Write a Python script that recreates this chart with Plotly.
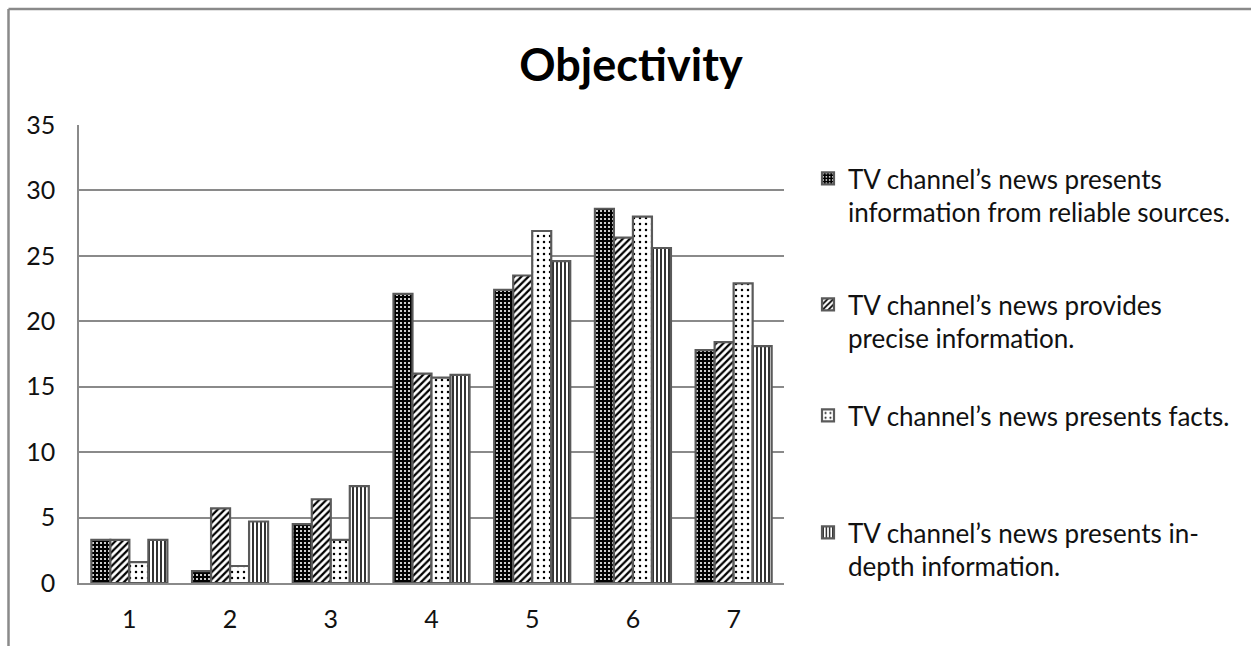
import plotly.graph_objects as go

# Response scale points (1-7) and share of respondents (%) per statement
categories = ["1", "2", "3", "4", "5", "6", "7"]
reliable_sources = [3.3, 0.9, 4.5, 22.1, 22.4, 28.6, 17.8]
precise_info = [3.3, 5.7, 6.4, 16.0, 23.5, 26.4, 18.4]
presents_facts = [1.6, 1.3, 3.3, 15.7, 26.9, 28.0, 22.9]
in_depth_info = [3.3, 4.7, 7.4, 15.9, 24.6, 25.6, 18.1]

series_names = [
    "TV channel’s news presents<br>information from reliable sources.",
    "TV channel’s news provides<br>precise information.",
    "TV channel’s news presents facts.",
    "TV channel’s news presents in-<br>depth information.",
]
y_ticks = [0, 5, 10, 15, 20, 25, 30, 35]

W, H = 1251, 646
L, R, T, B = 79, 467, 125, 63
plot_w = W - L - R
plot_h = H - T - B

FONT = "Lato"
OUTLINE = "#5a5a5a"

patterns = [
    dict(shape=".", bgcolor="black", fgcolor="white", size=4, solidity=0.22, fillmode="replace"),
    dict(shape="/", bgcolor="white", fgcolor="black", size=5, solidity=0.45, fillmode="replace"),
    dict(shape=".", bgcolor="white", fgcolor="black", size=6, solidity=0.14, fillmode="replace"),
    dict(shape="|", bgcolor="white", fgcolor="black", size=4, solidity=0.4, fillmode="replace"),
]
values = [reliable_sources, precise_info, presents_facts, in_depth_info]
legend_ids = ["legend", "legend2", "legend3", "legend4"]
# vertical position (px from top) of each legend entry's top edge
legend_tops = [155, 281, 392, 509]

fig = go.Figure()
for name, vals, pat, lid in zip(series_names, values, patterns, legend_ids):
    fig.add_trace(go.Bar(
        x=categories, y=vals, name=name, legend=lid,
        marker=dict(color="white", pattern=pat,
                    line=dict(color=OUTLINE, width=2.2)),
    ))

legend_common = dict(
    xref="container", yref="container", xanchor="left", yanchor="top",
    x=808 / W, bgcolor="rgba(0,0,0,0)", borderwidth=0, valign="top",
    font=dict(family=FONT, size=26, color="#111"),
)
layout_legends = {}
for lid, top in zip(legend_ids, legend_tops):
    layout_legends[lid] = dict(legend_common, y=1 - top / H)

# outer chart frame (top and left edges)
def px_x(px):
    return (px - L) / plot_w

def px_y(py):
    return (H - B - py) / plot_h

frame = [
    dict(type="line", xref="paper", yref="paper",
         x0=px_x(8.5), x1=px_x(W), y0=px_y(9), y1=px_y(9),
         line=dict(color="#8a8a8a", width=2.5)),
    dict(type="line", xref="paper", yref="paper",
         x0=px_x(8.5), x1=px_x(8.5), y0=px_y(9), y1=px_y(H),
         line=dict(color="#8a8a8a", width=2.5)),
]

fig.update_layout(
    width=W, height=H,
    margin=dict(l=L, r=R, t=T, b=B),
    paper_bgcolor="white", plot_bgcolor="white",
    barmode="group", bargap=0.245, bargroupgap=0,
    title=dict(text="<b>Objectivity</b>", xref="container", yref="container",
               x=631 / W, xanchor="center", y=1 - 65 / H, yanchor="middle",
               font=dict(family=FONT, size=45, color="black")),
    showlegend=True,
    shapes=frame,
    font=dict(family=FONT, color="#111"),
    **layout_legends,
)
fig.update_xaxes(
    type="category", showgrid=False, showline=True, linecolor="#8a8a8a", linewidth=1.5,
    ticks="", tickfont=dict(family=FONT, size=25, color="#111"), ticklabelstandoff=13,
)
fig.update_yaxes(
    range=[0, 35], tickvals=y_ticks, showgrid=True, gridcolor="#8a8a8a", gridwidth=1.5,
    showline=True, linecolor="#8a8a8a", linewidth=1.5, zeroline=False,
    ticks="", tickfont=dict(family=FONT, size=25, color="#111"), ticklabelstandoff=17,
)

fig.write_html("out.html")
